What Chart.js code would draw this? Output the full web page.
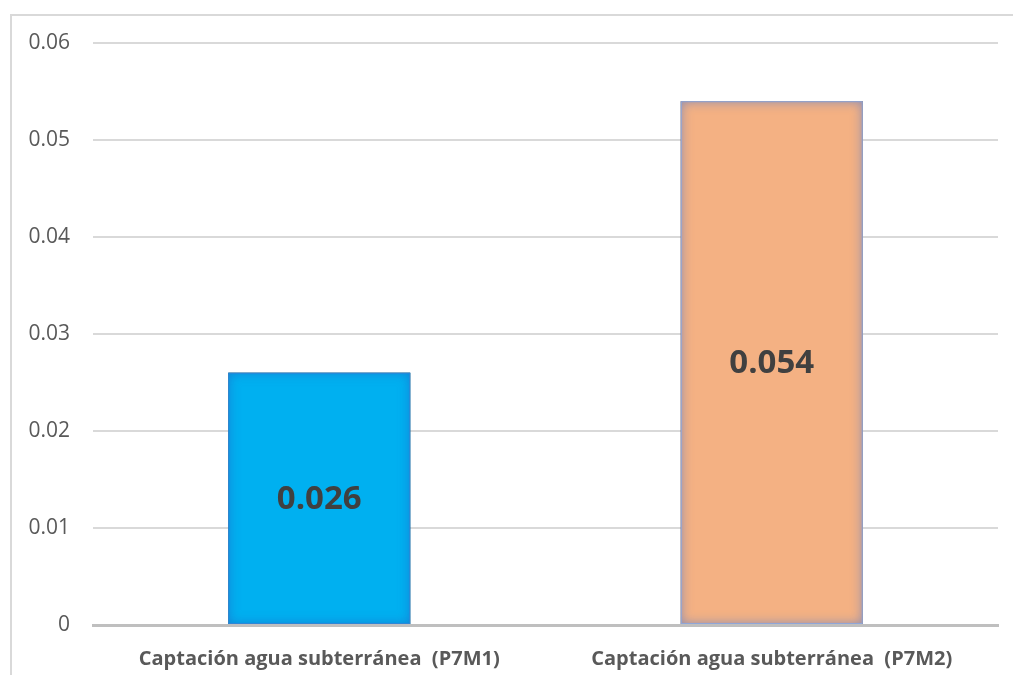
<!DOCTYPE html>
<html>
<head>
<meta charset="utf-8">
<script src="https://cdn.jsdelivr.net/npm/chart.js@4.4.1/dist/chart.umd.min.js"></script>
<style>
  html, body { margin: 0; padding: 0; background: #ffffff; }
  #wrap { position: relative; width: 1013px; height: 675px; }
</style>
</head>
<body>
<div id="wrap"><canvas id="chart" width="1013" height="675"></canvas></div>
<script>
// Categories and values
const categories = ['Captación agua subterránea  (P7M1)', 'Captación agua subterránea  (P7M2)'];
const values = [0.026, 0.054];
const barColors = ['#00B0F0', '#F4B183'];
const barEdgeColors = ['#2E86D6', '#8FA6D8'];
const barGlowColors = ['rgba(30,110,200,0.75)', 'rgba(110,130,190,0.85)'];
const yTicks = [0, 0.01, 0.02, 0.03, 0.04, 0.05, 0.06];

// Light frame around the chart region
const framePlugin = {
  id: 'frame',
  beforeDraw(chart) {
    const ctx = chart.ctx;
    ctx.save();
    ctx.strokeStyle = '#d9d9d9';
    ctx.lineWidth = 2;
    ctx.beginPath();
    ctx.moveTo(11, chart.height);
    ctx.lineTo(11, 15);
    ctx.lineTo(chart.width, 15);
    ctx.stroke();
    ctx.restore();
  }
};

// Soft inner shading along the bar edges, then the value labels
const barDecorPlugin = {
  id: 'barDecor',
  afterDatasetsDraw(chart) {
    const ctx = chart.ctx;
    const meta = chart.getDatasetMeta(0);
    meta.data.forEach((bar, i) => {
      const p = bar.getProps(['x', 'y', 'base', 'width'], true);
      const left = p.x - p.width / 2;
      const top = Math.min(p.y, p.base);
      const h = Math.abs(p.base - p.y);
      ctx.save();
      ctx.beginPath();
      ctx.rect(left, top, p.width, h);
      ctx.clip();
      ctx.shadowColor = barGlowColors[i];
      ctx.shadowBlur = 12;
      ctx.shadowOffsetX = 0;
      ctx.shadowOffsetY = 0;
      ctx.fillStyle = '#000';
      ctx.beginPath();
      ctx.rect(left - 60, top - 60, p.width + 120, h + 120);
      ctx.rect(left, top, p.width, h);
      ctx.fill('evenodd');
      ctx.restore();

      ctx.save();
      ctx.strokeStyle = barEdgeColors[i];
      ctx.lineWidth = 1;
      ctx.strokeRect(left + 0.5, top + 0.5, p.width - 1, h - 1);
      ctx.restore();

      ctx.save();
      ctx.fillStyle = '#404040';
      ctx.font = 'bold 33px "Open Sans"';
      ctx.textAlign = 'center';
      ctx.textBaseline = 'middle';
      ctx.fillText(values[i].toFixed(3), p.x, (p.y + p.base) / 2 + 1);
      ctx.restore();
    });
  }
};

new Chart(document.getElementById('chart'), {
  type: 'bar',
  data: {
    labels: categories,
    datasets: [{
      data: values,
      backgroundColor: barColors,
      borderWidth: 0,
      categoryPercentage: 1.0,
      barPercentage: 0.402
    }]
  },
  options: {
    responsive: false,
    animation: false,
    devicePixelRatio: 1,
    layout: { padding: { left: 0, right: 15, top: 43, bottom: 0 } },
    plugins: {
      legend: { display: false },
      tooltip: { enabled: false }
    },
    scales: {
      x: {
        z: 1,
        grid: { display: false, drawTicks: false },
        border: { display: true, color: '#bfbfbf', width: 3 },
        ticks: {
          color: '#595959',
          font: { family: '"Open Sans"', size: 20, weight: 'bold' },
          padding: 22,
          maxRotation: 0
        },
        afterFit(scale) { scale.height = 50; }
      },
      y: {
        min: 0,
        max: 0.06,
        afterBuildTicks(scale) { scale.ticks = yTicks.map(v => ({ value: v })); },
        grid: { color: '#d9d9d9', lineWidth: 2, drawTicks: false },
        border: { display: false },
        ticks: {
          color: '#595959',
          font: { family: '"Open Sans"', size: 21 },
          padding: 23,
          callback: v => String(v)
        },
        afterFit(scale) { scale.width = 93; }
      }
    }
  },
  plugins: [framePlugin, barDecorPlugin]
});
</script>
</body>
</html>
